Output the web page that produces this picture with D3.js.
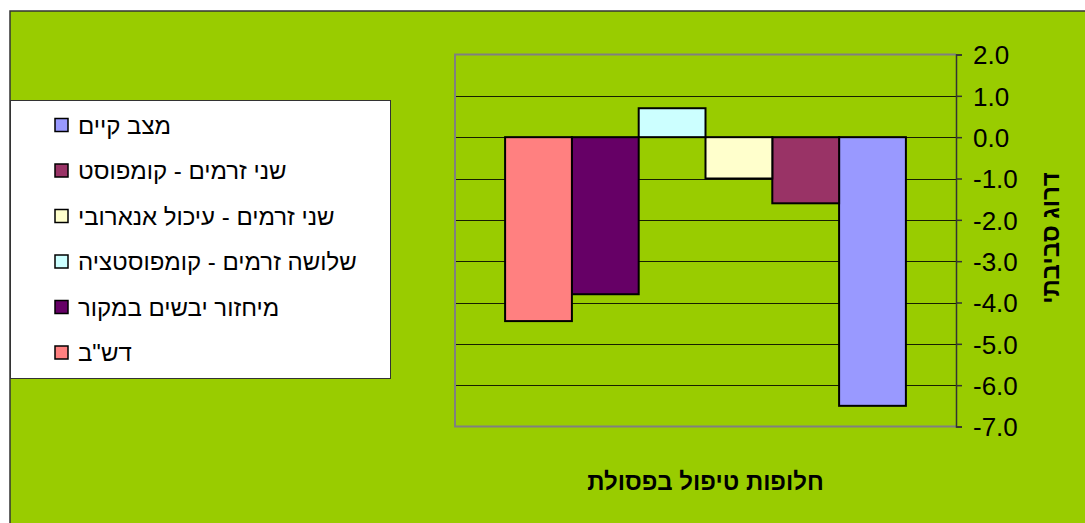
<!DOCTYPE html>
<html>
<head>
<meta charset="utf-8">
<script src="https://cdn.jsdelivr.net/npm/d3@7"></script>
<style>
html,body{margin:0;padding:0;background:#fff;}
svg{display:block;font-family:"Liberation Sans",Arial,sans-serif;}
</style>
</head>
<body>
<svg id="chart" width="1085" height="523"></svg>
<script>
// Series (legend order, top to bottom)
const seriesNames = ["מצב קיים", "שני זרמים - קומפוסט", "שני זרמים - עיכול אנארובי", "שלושה זרמים - קומפוסטציה", "מיחזור יבשים במקור", "דש\"ב"];
const seriesValues = [-6.5, -1.6, -1.0, 0.7, -3.8, -4.45];
const seriesColors = ["#9999FF", "#993366", "#FFFFCC", "#CCFFFF", "#660066", "#FF8080"];
const yTicks = [2, 1, 0, -1, -2, -3, -4, -5, -6, -7];
const xTitle = "חלופות טיפול בפסולת";
const yTitle = "דרוג סביבתי";

const svg = d3.select("#chart");

// outer chart area
svg.append("rect").attr("x", 10).attr("y", 11).attr("width", 1085).attr("height", 530)
  .attr("fill", "#99CC00").attr("stroke", "#333").attr("stroke-width", 1.5);

const plot = {left: 455, right: 956, top: 54.5, bottom: 426.5};

const y = d3.scaleLinear().domain([-7, 2]).range([plot.bottom, plot.top]);
// bars drawn right-to-left: first series at the right
const x = d3.scaleBand().domain(seriesNames.slice().reverse())
  .range([plot.left, plot.right]).paddingInner(0).paddingOuter(0.75);

// gridlines
svg.append("g").selectAll("line").data(yTicks.filter(d => d !== 2 && d !== -7)).join("line")
  .attr("x1", plot.left).attr("x2", plot.right)
  .attr("y1", d => Math.round(y(d)) + 0.5).attr("y2", d => Math.round(y(d)) + 0.5)
  .attr("stroke", "#000").attr("stroke-opacity", 0.85).attr("stroke-width", 1);

// plot border (left, top, bottom) in gray
svg.append("path")
  .attr("d", `M${plot.right},${plot.top}H${plot.left}V${plot.bottom}H${plot.right}`)
  .attr("fill", "none").attr("stroke", "#808080").attr("stroke-width", 2);

// bars
svg.append("g").selectAll("rect").data(seriesNames.map((n, i) => ({n, v: seriesValues[i], c: seriesColors[i]})))
  .join("rect")
  .attr("x", d => x(d.n))
  .attr("width", x.bandwidth())
  .attr("y", d => y(Math.max(0, d.v)))
  .attr("height", d => Math.abs(y(d.v) - y(0)))
  .attr("fill", d => d.c)
  .attr("stroke", "#000").attr("stroke-width", 2);

// right axis
const axis = d3.axisRight(y).tickValues(yTicks).tickSize(6).tickPadding(11)
  .tickFormat(d3.format(".1f"));
const gA = svg.append("g").attr("transform", `translate(${plot.right},0)`).call(axis);
gA.select(".domain").attr("stroke", "#333").attr("stroke-width", 1.5);
gA.selectAll(".tick line").attr("stroke", "#333").attr("stroke-width", 1.5);
gA.selectAll(".tick text").attr("font-size", 26).attr("fill", "#000")
  .attr("font-family", "'Liberation Sans', Arial, sans-serif")
  .attr("text-anchor", "start").attr("dy", "0.36em")
  .text(d => d3.format(".1f")(d).replace("−", "-"));

// axis titles
svg.append("text").attr("transform", "translate(1051,238) rotate(-90)")
  .attr("text-anchor", "middle").attr("dy", "0.35em")
  .attr("font-size", 24).attr("font-weight", "bold").text(yTitle);
svg.append("text").attr("x", (plot.left + plot.right) / 2).attr("y", 482)
  .attr("text-anchor", "middle").attr("dy", "0.35em")
  .attr("font-size", 24).attr("font-weight", "bold").text(xTitle);

// legend
const lg = svg.append("g");
lg.append("rect").attr("x", 10.5).attr("y", 100.5).attr("width", 380).attr("height", 278)
  .attr("fill", "#fff").attr("stroke", "#333").attr("stroke-width", 1);
const ly = d3.scalePoint().domain(seriesNames).range([125.5, 353]);
const items = lg.selectAll("g.item").data(seriesNames.map((n, i) => ({n, c: seriesColors[i]})))
  .join("g").attr("class", "item").attr("transform", d => `translate(0,${ly(d.n)})`);
items.append("rect").attr("x", 55).attr("y", -7).attr("width", 13).attr("height", 13)
  .attr("fill", d => d.c).attr("stroke", "#000").attr("stroke-width", 1.5);
items.append("text").attr("x", 78).attr("y", 0).attr("dy", "0.35em")
  .attr("font-size", 24).attr("fill", "#000").text(d => d.n);
</script>
</body>
</html>
